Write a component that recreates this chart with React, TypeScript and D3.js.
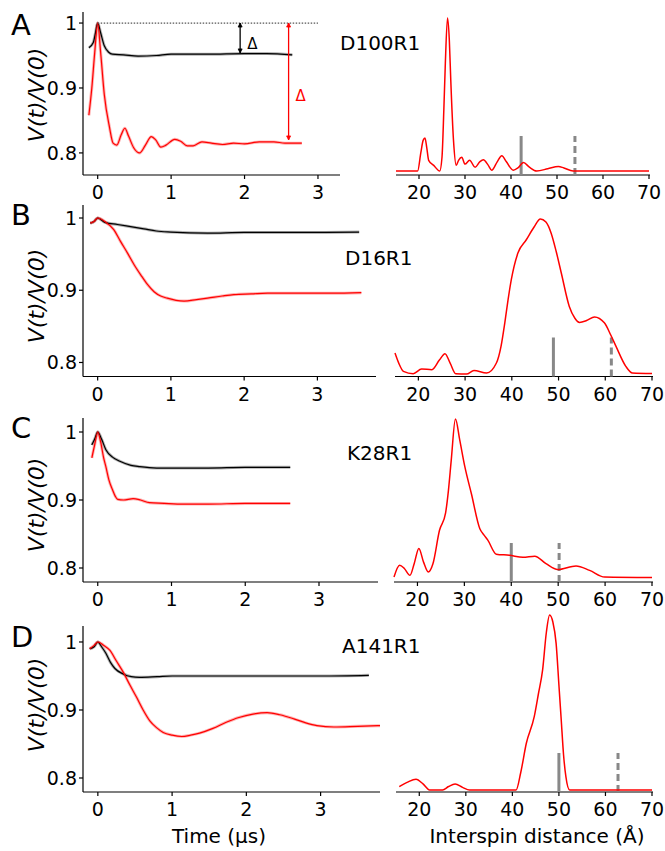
import React from "react";
import * as d3 from "d3";

type P = [number, number];

// ---------- data ----------
const panelLetters = ["A", "B", "C", "D"];
const sampleNames = ["D100R1", "D16R1", "K28R1", "A141R1"];

const yTicks = [0.8, 0.9, 1];
const yTickLabels = ["0.8", "0.9", "1"];
const timeTicks = [0, 1, 2, 3];
const distTicks = [20, 30, 40, 50, 60, 70];

const blackA: P[] = [[-0.12,0.962],[-0.06,0.97],[-0.03,0.985],[0,1.0],[0.04,0.985],[0.09,0.965],[0.15,0.955],[0.2,0.952],[0.35,0.951],[0.55,0.949],[0.8,0.95],[1.0,0.952],[1.5,0.952],[2.0,0.953],[2.3,0.953],[2.65,0.951]];
const redA: P[] = [[-0.12,0.858],[-0.08,0.9],[-0.04,0.955],[0,1.0],[0.04,0.955],[0.09,0.89],[0.16,0.84],[0.21,0.815],[0.26,0.812],[0.32,0.828],[0.37,0.838],[0.42,0.826],[0.49,0.808],[0.57,0.8],[0.65,0.812],[0.73,0.825],[0.79,0.82],[0.86,0.809],[0.93,0.812],[1.05,0.821],[1.13,0.818],[1.22,0.811],[1.3,0.811],[1.42,0.817],[1.55,0.815],[1.7,0.813],[1.85,0.815],[2.0,0.814],[2.2,0.817],[2.4,0.817],[2.55,0.815],[2.78,0.815]];

const blackB: P[] = [[-0.1,0.993],[-0.05,0.995],[0,1.0],[0.1,0.994],[0.27,0.991],[0.45,0.988],[0.63,0.985],[0.8,0.982],[1.0,0.9805],[1.5,0.979],[2.0,0.98],[2.5,0.98],[3.0,0.98],[3.57,0.9805]];
const redB: P[] = [[-0.1,0.993],[-0.05,0.995],[0,1.0],[0.1,0.995],[0.22,0.984],[0.31,0.968],[0.41,0.951],[0.5,0.935],[0.59,0.921],[0.68,0.908],[0.77,0.898],[0.86,0.892],[0.95,0.889],[1.07,0.886],[1.18,0.885],[1.35,0.887],[1.5,0.889],[1.7,0.892],[1.86,0.894],[2.1,0.895],[2.32,0.896],[2.8,0.896],[3.2,0.896],[3.6,0.8967]];

const blackC: P[] = [[-0.08,0.981],[-0.04,0.99],[0,1.0],[0.05,0.99],[0.11,0.974],[0.2,0.963],[0.3,0.957],[0.45,0.951],[0.57,0.949],[0.8,0.947],[1.0,0.947],[1.5,0.947],[2.0,0.948],[2.61,0.948]];
const redC: P[] = [[-0.08,0.962],[-0.04,0.982],[0,1.0],[0.04,0.985],[0.08,0.962],[0.11,0.949],[0.15,0.93],[0.2,0.915],[0.24,0.905],[0.27,0.901],[0.35,0.9],[0.48,0.902],[0.58,0.9],[0.7,0.896],[0.9,0.895],[1.08,0.894],[1.5,0.894],[2.0,0.895],[2.61,0.895]];

const blackD: P[] = [[-0.11,0.99],[-0.05,0.993],[0,1.0],[0.05,0.993],[0.11,0.983],[0.17,0.97],[0.23,0.961],[0.34,0.953],[0.45,0.949],[0.56,0.948],[0.8,0.949],[1.0,0.95],[1.5,0.95],[2.0,0.95],[2.5,0.95],[3.0,0.95],[3.65,0.951]];
const redD: P[] = [[-0.11,0.99],[-0.05,0.995],[0,1.0],[0.08,0.995],[0.16,0.988],[0.25,0.972],[0.34,0.956],[0.43,0.937],[0.52,0.919],[0.61,0.9],[0.7,0.884],[0.79,0.874],[0.88,0.867],[1.0,0.863],[1.13,0.861],[1.25,0.863],[1.37,0.866],[1.55,0.873],[1.73,0.882],[1.9,0.889],[2.09,0.894],[2.28,0.896],[2.45,0.893],[2.64,0.887],[2.8,0.881],[2.95,0.877],[3.18,0.875],[3.5,0.876],[3.8,0.877]];

const distA: P[] = [[15,0],[19.7,0],[20.4,0.12],[20.9,0.2],[21.3,0.215],[21.7,0.15],[22.1,0.07],[23.2,0.037],[24.5,0],[25.0,0.09],[25.4,0.4],[25.7,0.68],[26.2,1.0],[26.6,0.85],[26.9,0.6],[27.5,0.2],[28.1,0.037],[28.6,0.07],[29.3,0.09],[30.0,0.045],[31.0,0.07],[32.2,0.025],[33.2,0.06],[34.0,0.074],[35.0,0.04],[35.8,0.005],[37.0,0.06],[38.0,0.1],[39.0,0.06],[40.5,0.005],[41.5,0.02],[42.7,0.055],[44,0.025],[45.6,0],[48,0.015],[50.3,0.03],[51.5,0.02],[53.5,0],[70,0]];
const distB: P[] = [[15,0.135],[15.8,0.07],[16.8,0.017],[18.9,0.002],[20.7,0.032],[22.9,0.028],[24.5,0.09],[25.7,0.131],[26.8,0.07],[28.0,0.002],[30.3,0],[31.9,0.022],[34.6,0.006],[36.7,0.071],[37.7,0.18],[38.5,0.33],[39.2,0.48],[39.9,0.61],[41.3,0.78],[43.1,0.866],[44.8,0.95],[46.1,1.0],[47.3,0.98],[48.4,0.91],[49.5,0.79],[50.6,0.65],[52.3,0.436],[53.5,0.36],[54.5,0.333],[56,0.345],[57.7,0.368],[59.8,0.33],[61.2,0.25],[62.3,0.178],[64.4,0.049],[65.8,0.006],[70,0.003]];
const distC: P[] = [[14.9,0.006],[16.2,0.08],[17.2,0.06],[18.4,0.017],[19.3,0.09],[20.3,0.186],[21.3,0.1],[22.3,0.038],[23.3,0.09],[24.7,0.3],[26.0,0.41],[26.6,0.55],[27.2,0.74],[28.1,1.0],[29.0,0.87],[30.1,0.7],[31.5,0.53],[33.3,0.31],[34.2,0.27],[35.0,0.238],[36.8,0.15],[39.6,0.143],[42.5,0.13],[45.0,0.137],[47.4,0.09],[49.9,0.053],[53.8,0.076],[56.7,0.048],[59.9,0.006],[70,0.003]];
const distD: P[] = [[15.7,0.019],[17.5,0.045],[19.3,0.061],[20.8,0.035],[22.2,0],[25.0,0],[26.3,0.02],[27.7,0.034],[29.3,0.015],[30.8,0],[40.8,0],[41.8,0.1],[43.0,0.267],[44.7,0.419],[45.6,0.55],[46.5,0.686],[47.3,0.9],[48.0,1.0],[48.7,0.96],[49.4,0.838],[50.0,0.6],[50.5,0.4],[51.0,0.2],[51.5,0.076],[52.3,0],[70,0]];

const solidMarkers = [42.2, 48.9, 40.0, 50.0];
const dashedMarkers = [53.9, 61.3, 50.2, 62.7];

const deltaArrowTimes = [1.94, 2.6];
const deltaArrowEnds = [0.954, 0.82];

const blackSeries = [blackA, blackB, blackC, blackD];
const redSeries = [redA, redB, redC, redD];
const distSeries = [distA, distB, distC, distD];

// ---------- layout (pixels) ----------
const layouts = [
  { top: 12, axisY: 175, yDom: [0.766, 1.017], tMax: 3.3, xRight: 340, rL: 396, rR: 649, rBase: 171, rPeak: 18, letterY: 35, nameX: 340, nameY: 50, ylabY: 95 },
  { top: 205, axisY: 376.5, yDom: [0.7806, 1.018], tMax: 3.8, xRight: 376, rL: 395, rR: 652, rBase: 374, rPeak: 219, letterY: 225, nameX: 345, nameY: 265, ylabY: 296 },
  { top: 418, axisY: 582, yDom: [0.7794, 1.0206], tMax: 3.8, xRight: 378, rL: 394, rR: 652, rBase: 578, rPeak: 419, letterY: 438, nameX: 347, nameY: 460, ylabY: 505 },
  { top: 626, axisY: 792, yDom: [0.7794, 1.0235], tMax: 3.8, xRight: 380, rL: 396, rR: 652, rBase: 790, rPeak: 615, letterY: 647, nameX: 342, nameY: 653, ylabY: 705 },
];

const FONT = "DejaVu Sans, Verdana, sans-serif";
const RED = "#ff0000";

function Panel({ i }: { i: number }) {
  const L = layouts[i];
  const x = d3.scaleLinear().domain([-0.2, L.tMax]).range([83, L.xRight]);
  const y = d3.scaleLinear().domain(L.yDom).range([L.axisY, L.top]);
  const xr = d3.scaleLinear().domain([15, 70]).range([L.rL, L.rR]);
  const yr = d3.scaleLinear().domain([0, 1]).range([L.rBase, L.rPeak]);
  const line = d3.line<P>().x((d) => x(d[0])).y((d) => y(d[1])).curve(d3.curveMonotoneX);
  const dline = d3.line<P>().x((d) => xr(Math.max(15, d[0]))).y((d) => yr(d[1])).curve(d3.curveMonotoneX);
  const markerH = 39;

  return (
    <g>
      <text x={11} y={L.letterY} fontSize={29} fontFamily={FONT}>{panelLetters[i]}</text>
      <text transform={`translate(36,${L.ylabY}) rotate(-90)`} textAnchor="middle" dominantBaseline="central" fontSize={22} fontStyle="italic" fontFamily={FONT}>V(t)/V(0)</text>
      <text x={L.nameX} y={L.nameY} fontSize={20} fontFamily={FONT}>{sampleNames[i]}</text>

      {/* left axes */}
      <line x1={83} x2={83} y1={L.top} y2={L.axisY} stroke="#000" strokeWidth={1.2} />
      <line x1={83} x2={L.xRight} y1={L.axisY} y2={L.axisY} stroke="#000" strokeWidth={1.2} />
      {yTicks.map((t, k) => (
        <g key={k}>
          <line x1={79} x2={83} y1={y(t)} y2={y(t)} stroke="#000" strokeWidth={1.2} />
          <text x={77} y={y(t)} textAnchor="end" dominantBaseline="central" fontSize={19} fontFamily={FONT}>{yTickLabels[k]}</text>
        </g>
      ))}
      {timeTicks.map((t) => (
        <g key={t}>
          <line x1={x(t)} x2={x(t)} y1={L.axisY} y2={L.axisY + 4} stroke="#000" strokeWidth={1.2} />
          <text x={x(t)} y={L.axisY + 24} textAnchor="middle" fontSize={19} fontFamily={FONT}>{t}</text>
        </g>
      ))}

      {/* traces: data band + fit */}
      <path d={line(blackSeries[i]) || ""} fill="none" stroke="#000" strokeWidth={3} strokeOpacity={0.3} />
      <path d={line(redSeries[i]) || ""} fill="none" stroke={RED} strokeWidth={3} strokeOpacity={0.3} />
      <path d={line(blackSeries[i]) || ""} fill="none" stroke="#000" strokeWidth={1.2} />
      <path d={line(redSeries[i]) || ""} fill="none" stroke={RED} strokeWidth={1.2} />

      {i === 0 && (
        <g>
          <line x1={x(0)} x2={x(3)} y1={y(1)} y2={y(1)} stroke="#555" strokeWidth={1.2} strokeDasharray="1.5,1.5" />
          {deltaArrowTimes.map((t, k) => {
            const c = k === 0 ? "#000" : RED;
            const y1 = y(1), y2 = y(deltaArrowEnds[k]), xx = x(t);
            return (
              <g key={k}>
                <line x1={xx} x2={xx} y1={y1} y2={y2} stroke={c} strokeWidth={1.3} />
                <path d={`M${xx - 2},${y1 + 4}L${xx},${y1}L${xx + 2},${y1 + 4}Z`} fill={c} stroke={c} strokeWidth={0.8} />
                <path d={`M${xx - 2},${y2 - 4}L${xx},${y2}L${xx + 2},${y2 - 4}Z`} fill={c} stroke={c} strokeWidth={0.8} />
                <text x={xx + 7} y={k === 0 ? y(0.968) : y(0.888)} dominantBaseline="central" fontSize={15} fill={c} fontFamily={FONT}>Δ</text>
              </g>
            );
          })}
        </g>
      )}

      {/* right: distance distribution */}
      <line x1={L.rL} x2={L.rR + 1} y1={L.axisY} y2={L.axisY} stroke="#000" strokeWidth={1.2} />
      {distTicks.map((t) => (
        <g key={t}>
          <line x1={xr(t)} x2={xr(t)} y1={L.axisY} y2={L.axisY + 4} stroke="#000" strokeWidth={1.2} />
          <text x={xr(t)} y={L.axisY + 24} textAnchor="middle" fontSize={19} fontFamily={FONT}>{t}</text>
        </g>
      ))}
      <line x1={xr(solidMarkers[i])} x2={xr(solidMarkers[i])} y1={L.axisY} y2={L.axisY - markerH} stroke="#888" strokeWidth={3} />
      <line x1={xr(dashedMarkers[i])} x2={xr(dashedMarkers[i])} y1={L.axisY} y2={L.axisY - markerH} stroke="#888" strokeWidth={3} strokeDasharray="7,4" />
      <path d={dline(distSeries[i]) || ""} fill="none" stroke={RED} strokeWidth={1.5} />
    </g>
  );
}

export default function App() {
  return (
    <svg width={665} height={851} style={{ position: "absolute", left: 0, top: 0, background: "#fff" }}>
      {[0, 1, 2, 3].map((i) => <Panel key={i} i={i} />)}
      <text x={219} y={843} textAnchor="middle" fontSize={20} fontFamily={FONT}>Time (µs)</text>
      <text x={537} y={843} textAnchor="middle" fontSize={20} fontFamily={FONT}>Interspin distance (Å)</text>
    </svg>
  );
}
